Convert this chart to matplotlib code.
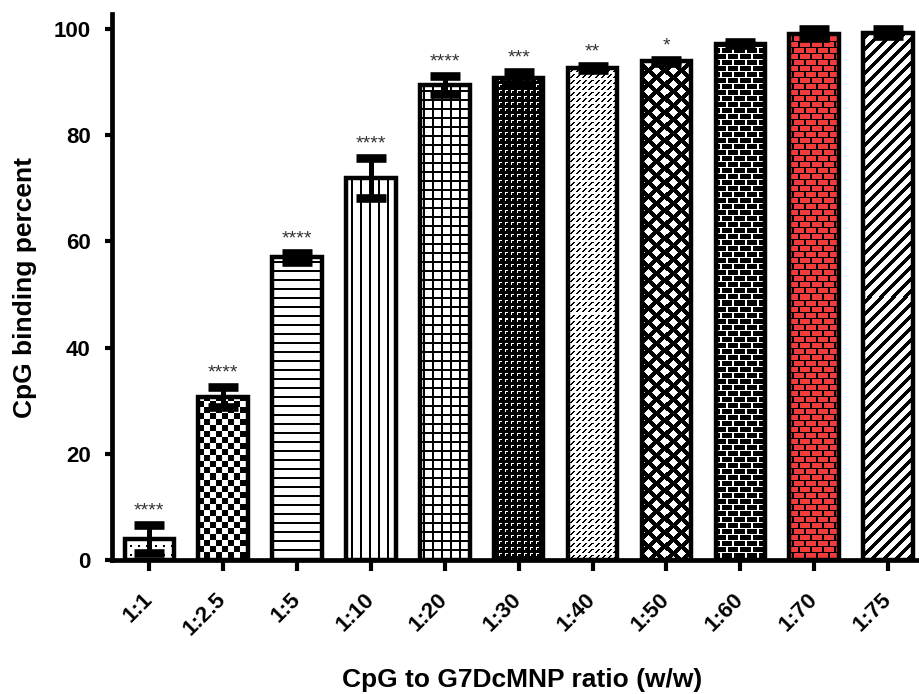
import numpy as np
import matplotlib
matplotlib.use("Agg")
import matplotlib.pyplot as plt

plt.rcParams['font.family'] = ['Liberation Sans', 'DejaVu Sans']
plt.rcParams['font.weight'] = 'bold'
plt.rcParams['axes.labelweight'] = 'bold'

# data
ratios = ["1:1", "1:2.5", "1:5", "1:10", "1:20", "1:30", "1:40", "1:50", "1:60", "1:70", "1:75"]
binding = [4.0, 30.7, 57.0, 71.9, 89.4, 90.8, 92.7, 93.9, 97.2, 99.1, 99.3]
binding_sd = [2.6, 1.9, 0.8, 3.8, 1.7, 1.1, 0.4, 0.3, 0.3, 0.9, 0.7]
signif = ["****", "****", "****", "****", "****", "***", "**", "*", "", "", ""]
fills = ["dots", "checker", "hlines", "vlines", "grid", "dense", "diag_brick",
         "diamond", "brick", "red_brick", "stripes"]

PALETTE = np.array([[255, 255, 255], [0, 0, 0], [240, 60, 60]], dtype=np.uint8)


def fill_index(name, r, c):
    # 0 white, 1 black, 2 red ; r, c are absolute pixel rows / cols
    if name == "dots":
        a = np.isin(r % 8, [2, 3]) & np.isin(c % 8, [2, 3])
        return a.astype(int)
    if name == "checker":
        return ((r // 6 + c // 6) % 2 == 0).astype(int)
    if name == "hlines":
        return (r % 9 < 2).astype(int)
    if name == "vlines":
        return (c % 9 < 2).astype(int)
    if name == "grid":
        return ((r % 9 < 2) | (c % 9 < 2)).astype(int)
    if name == "dense":
        white = ((r % 6 == 1) & np.isin(c % 6, [1, 2, 3])) | ((c % 6 == 1) & np.isin(r % 6, [1, 2, 3]))
        return (~white).astype(int)
    if name == "diag_brick":
        # short dashes running up-right, offset row by row
        d = c + r
        e = (c - r) // 2
        return ((d % 6 == 0) & ((e + 3 * ((d // 6) % 2)) % 6 < 4)).astype(int) | \
               ((d % 6 == 1) & ((e + 3 * ((d // 6) % 2)) % 6 < 4)).astype(int)
    if name == "diamond":
        d1 = np.abs(r % 14 - 7) + np.abs(c % 16 - 8)
        d2 = np.abs((r + 7) % 14 - 7) + np.abs((c + 8) % 16 - 8)
        return ~((d1 <= 4) | (d2 <= 4)) * 1
    if name == "brick":
        mortar = (r % 6 == 0) | ((c + 6 * ((r // 6) % 2)) % 12 < 2)
        return (~mortar).astype(int)
    if name == "red_brick":
        mortar = (r % 6 == 0) | ((c + 6 * ((r // 6) % 2)) % 12 < 2)
        return np.where(mortar, 1, 2)
    if name == "stripes":
        return ((c + r) % 12 < 5).astype(int)
    return np.zeros_like(r)


fig = plt.figure(figsize=(9.19, 6.94), dpi=100)
ax = fig.add_axes([0.1215, 0.1931, 0.8785, 0.7867])
x = np.arange(len(ratios))

bars = ax.bar(x, binding, width=0.67, facecolor='none', edgecolor='black',
              linewidth=3.2, zorder=3)
ax.set_xlim(-0.51, 10.42)
ax.set_ylim(0, 102.8)
ax.autoscale(False)

H = fig.bbox.height
for bar, name in zip(bars, fills):
    bb = bar.get_window_extent()
    c0, c1 = int(round(bb.x0)), int(round(bb.x1))
    r0, r1 = int(round(H - bb.y1)), int(round(H - bb.y0))
    rr, cc = np.mgrid[r0:r1, c0:c1]
    img = PALETTE[fill_index(name, rr, cc)]
    ax.imshow(img, extent=(bar.get_x(), bar.get_x() + bar.get_width(), 0, bar.get_height()),
              origin='upper', aspect='auto', interpolation='nearest', zorder=2,
              clip_path=bar)

ax.errorbar(x, binding, yerr=binding_sd, fmt='none', ecolor='black',
            elinewidth=3.6, capsize=11, capthick=6.2, zorder=4)

for xi, v, e, s in zip(x, binding, binding_sd, signif):
    if s:
        ax.text(xi, v + e + 2.6, s, ha='center', va='center', fontsize=14,
                color='#333333', fontweight='normal')

ax.spines['top'].set_visible(False)
ax.spines['right'].set_visible(False)
ax.spines['left'].set_linewidth(3.4)
ax.spines['bottom'].set_linewidth(3.4)

ax.set_yticks([0, 20, 40, 60, 80, 100])
ax.tick_params(axis='y', length=5, width=3, pad=10, labelsize=16)
ax.set_xticks(x)
ax.set_xticklabels(ratios, rotation=45, ha='right', va='center', rotation_mode='anchor')
ax.tick_params(axis='x', length=8, width=3, pad=18, labelsize=16)

ax.set_ylabel('CpG binding percent', fontsize=19)
ax.yaxis.set_label_coords(-0.093, 0.5)
ax.set_xlabel('CpG to G7DcMNP ratio (w/w)', fontsize=19)
ax.xaxis.set_label_coords(0.508, -0.198)

fig.savefig('out.png', dpi=100)
